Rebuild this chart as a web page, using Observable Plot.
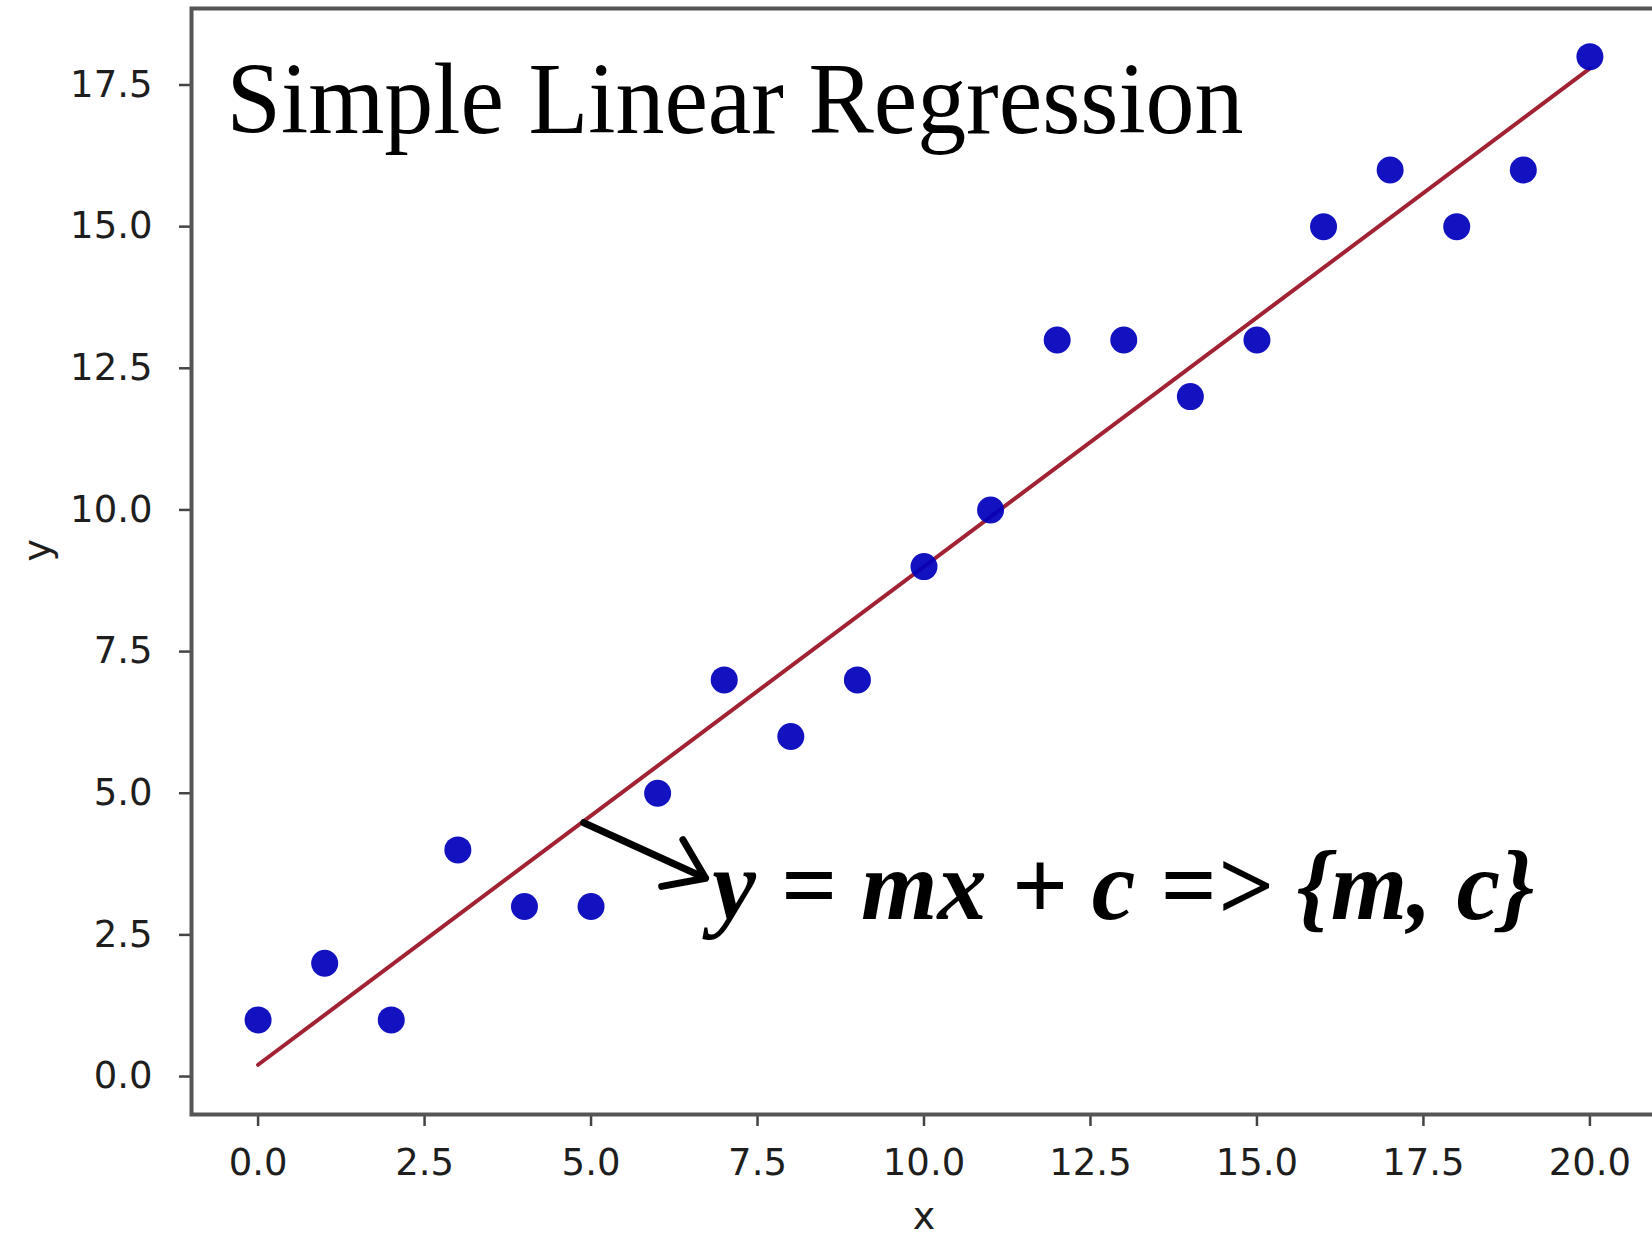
<!DOCTYPE html>
<html>
<head>
<meta charset="utf-8">
<script src="https://cdn.jsdelivr.net/npm/d3@7"></script>
<script src="https://cdn.jsdelivr.net/npm/@observablehq/plot@0.6"></script>
<style>
  html, body { margin: 0; padding: 0; background: white; overflow: hidden; }
  #chart svg { display: block; }
</style>
</head>
<body>
<div id="chart"></div>
<script>
// ---- data ----
const xValues = [0, 1, 2, 3, 4, 5, 6, 7, 8, 9, 10, 11, 12, 13, 14, 15, 16, 17, 18, 19, 20];
const yValues = [1, 2, 1, 4, 3, 3, 5, 7, 6, 7, 9, 10, 13, 13, 12, 13, 15, 16, 15, 16, 18];
const xTicks = [0, 2.5, 5, 7.5, 10, 12.5, 15, 17.5, 20];
const yTicks = [0, 2.5, 5, 7.5, 10, 12.5, 15, 17.5];
const xDomain = [-1, 21];
const yDomain = [-0.67, 18.85];
const titleText = "Simple Linear Regression";
const equationText = "y = mx + c => {m, c}";
const arrowFrom = [4.89, 4.48];
const arrowTo = [6.72, 3.5];
const equationAt = [6.82, 3.35];
const xLabel = "x";
const yLabel = "y";

const points = xValues.map((x, i) => ({x, y: yValues[i]}));
const arrowData = [{x1: arrowFrom[0], y1: arrowFrom[1], x2: arrowTo[0], y2: arrowTo[1]}];
const equationData = [{x: equationAt[0], y: equationAt[1], text: equationText}];

const chart = Plot.plot({
  width: 1652,
  height: 1239,
  marginLeft: 191,
  marginRight: -4,
  marginTop: 8,
  marginBottom: 125,
  x: {domain: xDomain},
  y: {domain: yDomain},
  style: {fontFamily: "DejaVu Sans", fontSize: "36px", color: "#1e1e1e", background: "white"},
  marks: [
    Plot.axisX({ticks: xTicks, tickFormat: d3.format(".1f"), tickSize: 12, tickPadding: 22,
      stroke: "#444", strokeWidth: 2.5, fill: "#1e1e1e", fontSize: 37, label: null}),
    Plot.axisY({ticks: yTicks, tickFormat: d3.format(".1f"), tickSize: 12, tickPadding: 27,
      stroke: "#444", strokeWidth: 2.5, fill: "#1e1e1e", fontSize: 37, label: null}),
    Plot.frame({stroke: "#555", strokeWidth: 4}),
    Plot.linearRegressionY(points, {x: "x", y: "y", ci: 0, stroke: "#a12233", strokeWidth: 4}),
    Plot.dot(points, {x: "x", y: "y", r: 13.5, fill: "#0000bb", fillOpacity: 0.93, stroke: "none"}),
    Plot.arrow(arrowData, {x1: "x1", y1: "y1", x2: "x2", y2: "y2", stroke: "black", strokeWidth: 7,
      headLength: 18, headAngle: 70}),
    Plot.text([titleText], {frameAnchor: "top-left", text: d => d, dx: 35, dy: 92, lineAnchor: "middle",
      textAnchor: "start", fontFamily: "Liberation Serif", fontSize: 101, fill: "black"}),
    Plot.text(equationData, {x: "x", y: "y", text: "text", textAnchor: "start", lineAnchor: "middle",
      fontFamily: "Liberation Serif", fontStyle: "italic", fontWeight: "bold", fontSize: 100, fill: "black"}),
    Plot.text([xLabel], {frameAnchor: "bottom", text: d => d, dy: 102, lineAnchor: "middle",
      fontFamily: "DejaVu Sans", fontSize: 38, fill: "#1e1e1e"}),
    Plot.text([yLabel], {frameAnchor: "left", text: d => d, dx: -154, rotate: -90, lineAnchor: "middle",
      fontFamily: "DejaVu Sans", fontSize: 38, fill: "#1e1e1e"})
  ]
});

document.getElementById("chart").appendChild(chart);

// slight horizontal compression of the serif texts, as in the reference
chart.querySelectorAll("text").forEach(t => {
  if (t.textContent === titleText) {
    t.setAttribute("textLength", 1017);
    t.setAttribute("lengthAdjust", "spacingAndGlyphs");
  } else if (t.textContent === equationText) {
    t.setAttribute("textLength", 822);
    t.setAttribute("lengthAdjust", "spacingAndGlyphs");
  }
});
</script>
</body>
</html>
